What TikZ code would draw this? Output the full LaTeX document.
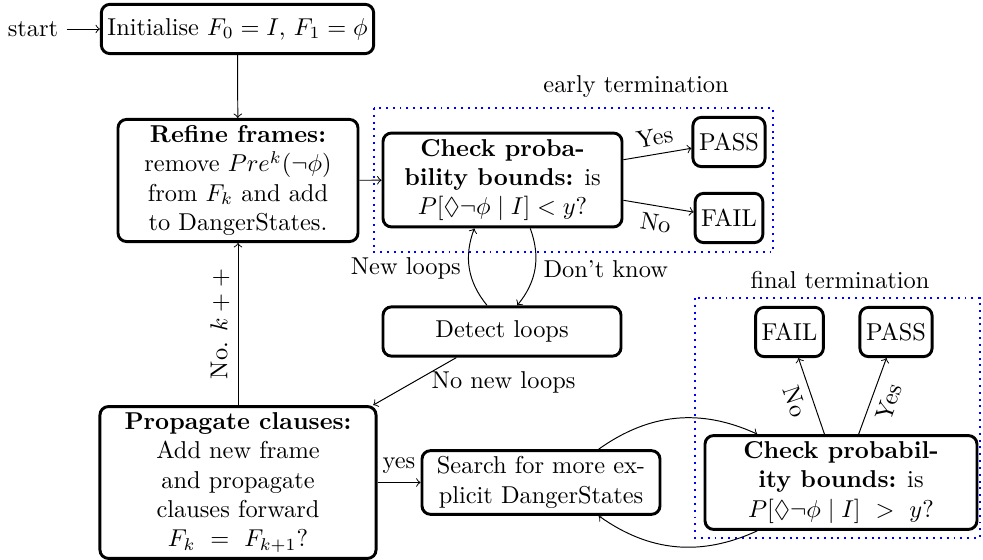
\documentclass[tikz,border=0pt]{standalone}
\usepackage{amssymb}
\begin{document}
\begin{tikzpicture}[x=0.41pt,y=0.41pt,
  box/.style={draw, very thick, rounded corners=3.5pt, align=center, minimum height=20.2pt, inner sep=2.5pt},
  term/.style={draw=blue, thick, dotted},
  conn/.style={->}]
\useasboundingbox (0,0) rectangle (983,-560);
% nodes
\node (start) at (33,-29) {start};
\node[box, minimum width=111.5pt] (init) at (237.5,-29) {Initialise $F_0 = I$, $F_1 = \phi$};
\node[box, minimum width=98.4pt, minimum height=49.6pt] (refine) at (238,-180.5)
  {\textbf{Refine frames:}\\ remove $Pre^k(\neg\phi)$\\ from $F_k$ and add\\ to DangerStates.};
\node[box, minimum width=98pt, minimum height=38.5pt] (check1) at (502.5,-180)
  {\textbf{Check proba-}\\ \textbf{bility bounds:} is\\ $P[\lozenge\neg\phi \mid I] < y$?};
\node[box] (pass1) at (729,-142) {PASS};
\node[box] (fail1) at (729,-218) {FAIL};
\node[box, minimum width=97.6pt] (detect) at (502,-331.5) {Detect loops};
\node[box, minimum width=113.2pt, minimum height=61.9pt] (prop) at (238,-482.5)
  {\textbf{Propagate clauses:}\\ Add new frame\\ and propagate\\ clauses forward\\ $F_k\ =\ F_{k+1}$?};
\node[box, minimum width=97.6pt, minimum height=25pt] (search) at (541,-482.5)
  {Search for more ex-\\ plicit DangerStates};
\node[box, minimum width=111.5pt, minimum height=37.3pt] (check2) at (841,-482.5)
  {\textbf{Check probabil-}\\ \textbf{ity bounds:} is\\ $P[\lozenge\neg\phi \mid I]\ >\ y$?};
\node[box] (fail2) at (789.5,-332) {FAIL};
\node[box] (pass2) at (896,-332) {PASS};
% termination regions
\draw[term] (374,-108) rectangle (773,-252);
\node (earlylbl) at (636,-87) {early termination};
\draw[term] (695,-298) rectangle (980,-538);
\node (finallbl) at (840,-280) {final termination};
% connectors
\draw[conn] (start) -- (init);
\draw[conn] (init) -- (refine);
\draw[conn] (refine) -- (check1);
\draw[conn] (check1) -- node[above, sloped] {Yes} (pass1);
\draw[conn] (check1) -- node[below, sloped] {No} (fail1);
\draw[conn] (check1) to[bend left=30] node[right] {Don't know} (detect);
\draw[conn] (detect) to[bend left=30] node[left] {New loops} (check1);
\draw[conn] (detect) -- node[pos=0.4, right, yshift=-2.5pt] {No new loops} (prop);
\draw[conn] (prop) -- node[above] {yes} (search);
\draw[conn] (prop) -- node[above, sloped] {No. $k++$} (refine);
\draw[conn] (search) to[bend left=30] (check2);
\draw[conn] (check2) to[bend left=30] (search);
\draw[conn] (check2) -- node[below, sloped] {No} (fail2);
\draw[conn] (check2) -- node[below, sloped] {Yes} (pass2);
\end{tikzpicture}
\end{document}
